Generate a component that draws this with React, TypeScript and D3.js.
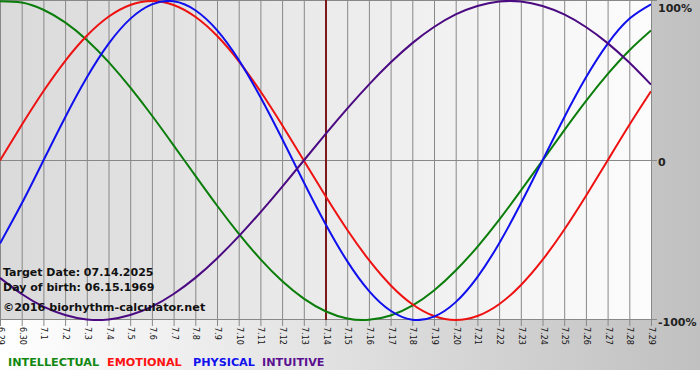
import React from "react";
import * as d3 from "d3";

const dayLabels = ["6.29","6.30","7.1","7.2","7.3","7.4","7.5","7.6","7.7","7.8","7.9","7.10","7.11","7.12","7.13","7.14","7.15","7.16","7.17","7.18","7.19","7.20","7.21","7.22","7.23","7.24","7.25","7.26","7.27","7.28","7.29"];

const physical = [-0.520,-0.270,0,0.270,0.520,0.731,0.888,0.979,0.998,0.942,0.817,0.631,0.398,0.136,-0.136,-0.398,-0.631,-0.817,-0.942,-0.998,-0.979,-0.888,-0.731,-0.520,-0.270,0,0.270,0.520,0.731,0.888,0.979];
const emotional = [0,0.2225,0.4339,0.6235,0.7818,0.9010,0.9749,1,0.9749,0.9010,0.7818,0.6235,0.4339,0.2225,0,-0.2225,-0.4339,-0.6235,-0.7818,-0.9010,-0.9749,-1,-0.9749,-0.9010,-0.7818,-0.6235,-0.4339,-0.2225,0,0.2225,0.4339];
const intellectual = [0.999,0.990,0.945,0.866,0.756,0.618,0.458,0.282,0.095,-0.095,-0.282,-0.458,-0.618,-0.756,-0.866,-0.945,-0.990,-0.999,-0.972,-0.910,-0.815,-0.690,-0.541,-0.372,-0.189,0,0.189,0.372,0.541,0.690,0.815];
const intuitive = [-0.736,-0.837,-0.916,-0.969,-0.997,-0.997,-0.969,-0.916,-0.837,-0.736,-0.614,-0.476,-0.325,-0.165,0,0.165,0.325,0.476,0.614,0.736,0.837,0.916,0.969,0.997,0.997,0.969,0.916,0.837,0.736,0.614,0.476];

const targetIndex = 15;
const yTicks = [1, 0, -1];
const yTickLabels = ["100%", "0", "-100%"];

const series = [
  { name: "INTELLECTUAL", values: intellectual, color: "#0a7d0a", legend: "#118811" },
  { name: "EMOTIONAL", values: emotional, color: "#ee1111", legend: "#ff1111" },
  { name: "PHYSICAL", values: physical, color: "#1010ee", legend: "#1111ee" },
  { name: "INTUITIVE", values: intuitive, color: "#4b0a82", legend: "#5a1090" },
];

const infoLines = ["Target Date: 07.14.2025", "Day of birth: 06.15.1969"];
const copyright = "©2016 biorhythm-calculator.net";

export default function App() {
  const W = 700, H = 380;
  const left = 0, right = 651, top = 1, bottom = 320;
  const x = d3.scaleLinear().domain([0, dayLabels.length - 1]).range([left, right]);
  const y = d3.scaleLinear().domain([-1, 1]).range([bottom, top]);
  const line = d3.line<number>().x((_, i) => x(i)).y((d) => y(d)).curve(d3.curveNatural);
  const font = "Verdana, 'DejaVu Sans', sans-serif";
  const legendX = [8, 107, 193, 262];
  const yLabelY = [12, 166, 326];

  return (
    <div style={{ position: "absolute", left: 0, top: 0 }}>
      <svg width={W} height={H} style={{ display: "block" }}>
        <defs>
          <linearGradient id="outer" x1="0" x2="1" y1="0" y2="0">
            <stop offset="0" stopColor="#ffffff" />
            <stop offset="1" stopColor="#c0c0c0" />
          </linearGradient>
          <linearGradient id="inner" x1="0" x2="1" y1="0" y2="0">
            <stop offset="0" stopColor="#dadada" />
            <stop offset="1" stopColor="#fcfcfc" />
          </linearGradient>
          <clipPath id="plotclip">
            <rect x={left} y={0} width={right - left} height={bottom + 1} />
          </clipPath>
        </defs>
        <rect x={0} y={0} width={W} height={H} fill="#ffffff" />
        <rect x={0} y={0} width={W} height={370} fill="url(#outer)" />
        <rect x={left} y={0} width={right - left} height={bottom} fill="url(#inner)" />
        {dayLabels.map((d, i) => (
          <line key={"g" + i} x1={x(i) + 0.5} x2={x(i) + 0.5} y1={0} y2={bottom + 6} stroke="#888888" strokeWidth={1} />
        ))}
        {yTicks.map((t, i) => (
          <line key={"h" + i} x1={left} x2={right + 6} y1={Math.round(y(t)) - 0.5} y2={Math.round(y(t)) - 0.5} stroke="#888888" strokeWidth={1} />
        ))}
        <line x1={left} x2={right} y1={0.5} y2={0.5} stroke="#888888" />
        <line x1={x(targetIndex) + 0.5} x2={x(targetIndex) + 0.5} y1={0} y2={bottom} stroke="#7a1a1a" strokeWidth={2} />
        <g clipPath="url(#plotclip)">
          {series.map((s) => (
            <path key={s.name} d={line(s.values) || ""} fill="none" stroke={s.color} strokeWidth={2} />
          ))}
        </g>
        {infoLines.map((t, i) => (
          <text key={t} x={3} y={276 + i * 15} fontFamily={font} fontWeight="bold" fontSize={11} fill="#111">{t}</text>
        ))}
        <text x={3} y={311} fontFamily={font} fontWeight="bold" fontSize={11.2} fill="#111">{copyright}</text>
        {dayLabels.map((d, i) => (
          <text key={"l" + i} transform={`translate(${x(i) + 0.5},${bottom + 7}) rotate(90)`} fontFamily={font} fontSize={8} dominantBaseline="middle" fill="#111">{d}</text>
        ))}
        {yTicks.map((t, i) => (
          <text key={"yl" + i} x={right + 7} y={yLabelY[i]} fontFamily={font} fontWeight="bold" fontSize={11} fill="#222">{yTickLabels[i]}</text>
        ))}
        {series.map((s, i) => (
          <text key={"lg" + i} x={legendX[i]} y={366} fontFamily={font} fontWeight="bold" fontSize={11.2} fill={s.legend}>{s.name}</text>
        ))}
      </svg>
    </div>
  );
}
